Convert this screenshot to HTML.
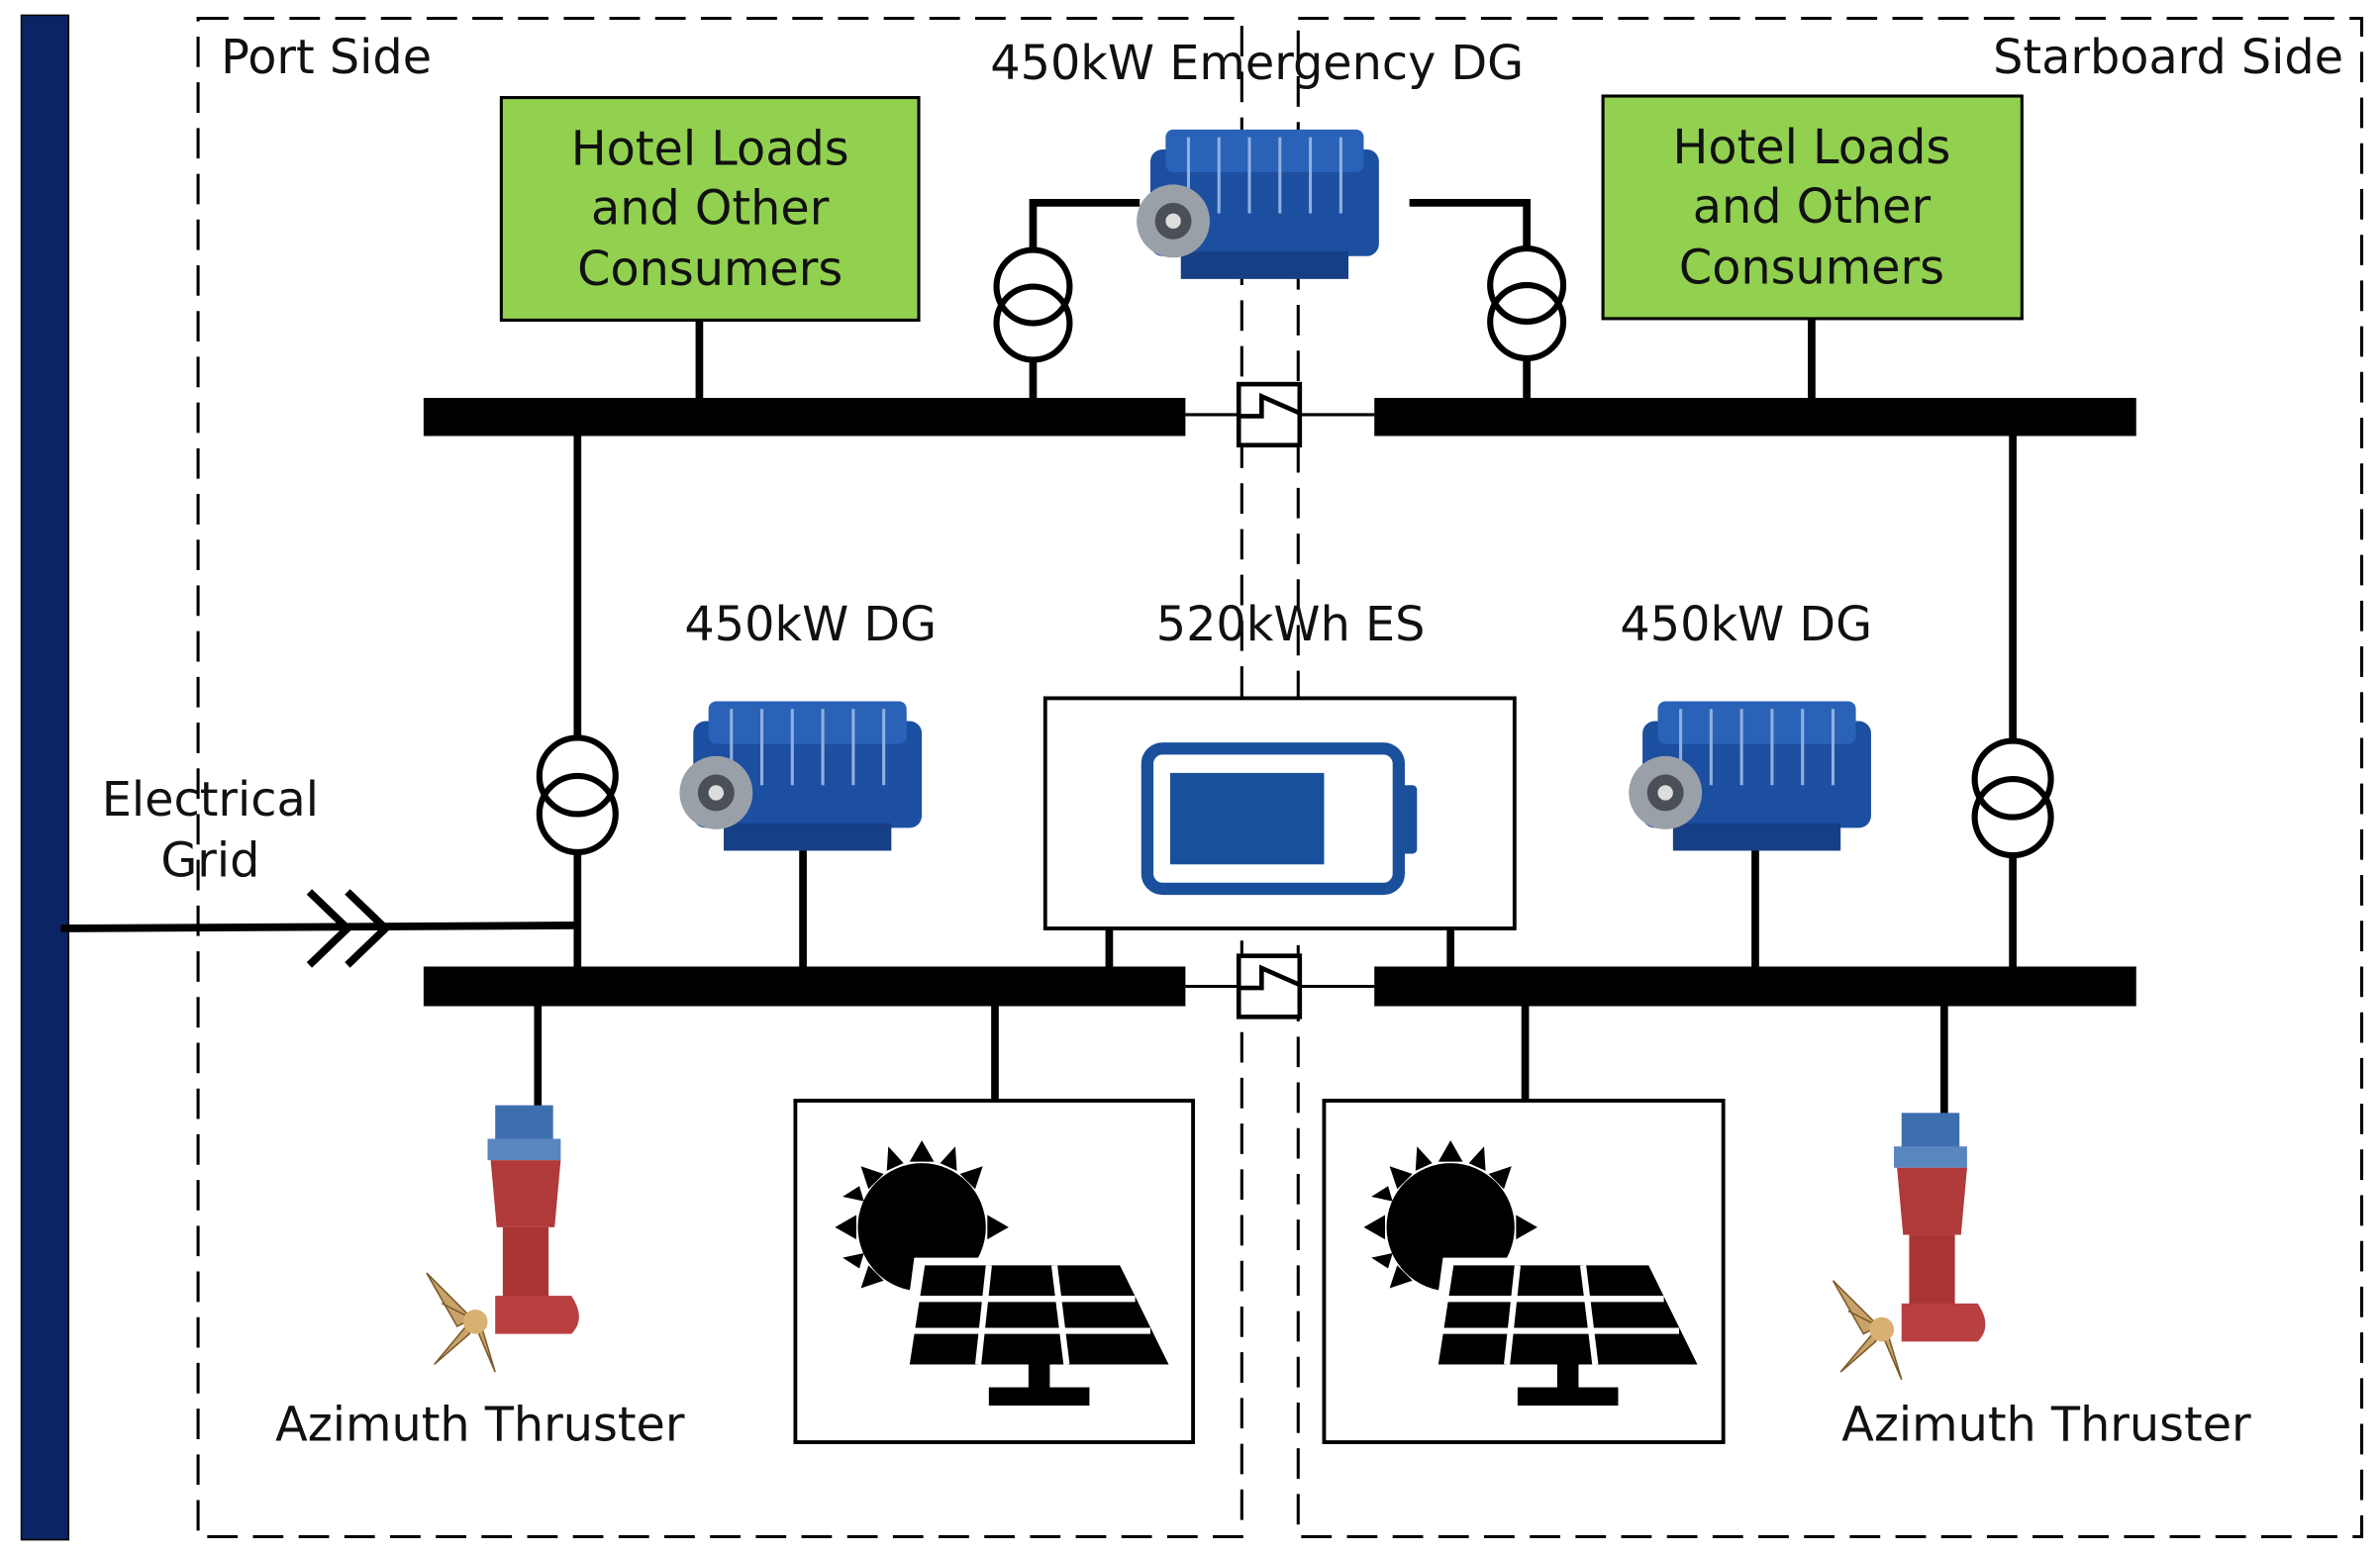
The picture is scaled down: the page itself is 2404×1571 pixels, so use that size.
<!DOCTYPE html>
<html><head><meta charset="utf-8"><style>
html,body{margin:0;padding:0;background:#fff;}
svg{display:block;}
text{font-family:"DejaVu Sans","Liberation Sans",sans-serif;font-size:31px;fill:#111;}
</style></head><body>
<svg width="2404" height="1571" viewBox="0 0 1562 1020" preserveAspectRatio="none" xmlns="http://www.w3.org/2000/svg">
<defs>
<g id="engine">
  <rect x="10" y="18" width="150" height="70" rx="8" fill="#1c4fa0"/>
  <rect x="20" y="5" width="130" height="28" rx="5" fill="#2a62b8"/>
  <g stroke="#8fb0e0" stroke-width="2">
    <line x1="35" y1="10" x2="35" y2="60"/><line x1="55" y1="10" x2="55" y2="60"/>
    <line x1="75" y1="10" x2="75" y2="60"/><line x1="95" y1="10" x2="95" y2="60"/>
    <line x1="115" y1="10" x2="115" y2="60"/><line x1="135" y1="10" x2="135" y2="60"/>
  </g>
  <rect x="30" y="85" width="110" height="18" fill="#173f85"/>
  <circle cx="25" cy="65" r="24" fill="#9aa0a8"/>
  <circle cx="25" cy="65" r="12" fill="#4a4f58"/>
  <circle cx="25" cy="65" r="5" fill="#ddd"/>
</g>
<g id="sun">
  <g fill="#000">
    <circle cx="60" cy="75" r="42"/>
    <polygon points="60,18 52,32 68,32"/><polygon points="60,132 52,118 68,118"/>
    <polygon points="3,75 17,67 17,83"/><polygon points="117,75 103,67 103,83"/>
    <polygon points="20,35 25,50 35,40"/><polygon points="100,35 85,40 95,50"/>
    <polygon points="20,115 35,110 25,100"/><polygon points="100,115 95,100 85,110"/>
    <polygon points="38,22 37,38 48,33"/><polygon points="82,22 72,33 83,38"/>
    <polygon points="8,55 22,58 19,48"/><polygon points="8,95 19,102 22,92"/>
  </g>
  <polygon points="55,95 195,95 230,170 45,170" fill="#fff"/>
  <polygon points="62,100 190,100 222,165 52,165" fill="#000"/>
  <g stroke="#fff" stroke-width="4">
    <line x1="104" y1="100" x2="97" y2="165"/><line x1="147" y1="100" x2="155" y2="165"/>
    <line x1="58" y1="122" x2="200" y2="122"/><line x1="55" y1="143" x2="210" y2="143"/>
  </g>
  <rect x="130" y="165" width="14" height="18" fill="#000"/>
  <rect x="104" y="180" width="66" height="12" fill="#000"/>
</g>
<g id="thr">
  <rect x="45" y="0" width="38" height="28" fill="#3d6fae"/>
  <rect x="40" y="22" width="48" height="14" fill="#5a86c0"/>
  <path d="M42,36 H88 L84,80 H46 Z" fill="#b03a3a"/>
  <rect x="50" y="80" width="30" height="50" fill="#a83434"/>
  <path d="M45,125 H95 Q105,140 95,150 H45 Z" fill="#b84040"/>
  <g fill="#c9a26a" stroke="#7a5a2a" stroke-width="1">
    <path d="M30,140 L0,110 L20,145 Z"/><path d="M30,140 L5,170 L28,150 Z"/>
    <path d="M30,140 L45,175 L36,145 Z"/><path d="M30,140 L10,130 Z"/>
  </g>
  <circle cx="32" cy="142" r="8" fill="#d8b070"/>
</g>
</defs>

<rect x="14" y="10" width="31" height="1000" fill="#0b2464" stroke="#000" stroke-width="1"/>

<g fill="none" stroke="#000" stroke-width="2" stroke-dasharray="20,10">
  <rect x="130" y="12" width="685" height="996"/>
  <rect x="852" y="12" width="698" height="996"/>
</g>
<text x="145" y="48">Port Side</text>
<text x="1538" y="48" text-anchor="end">Starboard Side</text>
<text x="825" y="52" text-anchor="middle">450kW Emergency DG</text>

<rect x="329" y="64" width="274" height="146" fill="#92d050" stroke="#000" stroke-width="2"/>
<rect x="1052" y="63" width="275" height="146" fill="#92d050" stroke="#000" stroke-width="2"/>
<g text-anchor="middle">
<text x="466" y="108">Hotel Loads</text><text x="466" y="147">and Other</text><text x="466" y="187">Consumers</text>
<text x="1189" y="107">Hotel Loads</text><text x="1189" y="146">and Other</text><text x="1189" y="186">Consumers</text>
</g>

<g stroke="#000" stroke-width="5" fill="none">
  <line x1="459" y1="210" x2="459" y2="262"/>
  <line x1="1189" y1="209" x2="1189" y2="262"/>
  <polyline points="678,164 678,133 748,133"/>
  <line x1="678" y1="236" x2="678" y2="262"/>
  <polyline points="1002,163 1002,133 925,133"/>
  <line x1="1002" y1="235" x2="1002" y2="262"/>
  <line x1="379" y1="286" x2="379" y2="484"/>
  <line x1="379" y1="558" x2="379" y2="635"/>
  <line x1="1321" y1="286" x2="1321" y2="486"/>
  <line x1="1321" y1="560" x2="1321" y2="635"/>
  <line x1="527" y1="555" x2="527" y2="635"/>
  <line x1="1152" y1="555" x2="1152" y2="635"/>
  <line x1="728" y1="609" x2="728" y2="635"/>
  <line x1="952" y1="609" x2="952" y2="635"/>
  <line x1="353" y1="660" x2="353" y2="728"/>
  <line x1="653" y1="660" x2="653" y2="722"/>
  <line x1="1001" y1="660" x2="1001" y2="722"/>
  <line x1="1276" y1="660" x2="1276" y2="732"/>
  <line x1="40" y1="609" x2="379" y2="607"/>
  <polyline points="203,585 228,609 203,633"/>
  <polyline points="228,585 253,609 228,633"/>
  <circle cx="678" cy="188" r="24" stroke-width="4"/><circle cx="678" cy="212" r="24" stroke-width="4"/>
  <circle cx="1002" cy="187" r="24" stroke-width="4"/><circle cx="1002" cy="211" r="24" stroke-width="4"/>
  <circle cx="379" cy="509" r="25" stroke-width="4"/><circle cx="379" cy="534" r="25" stroke-width="4"/>
  <circle cx="1321" cy="511" r="25" stroke-width="4"/><circle cx="1321" cy="536" r="25" stroke-width="4"/>
</g>
<g stroke="#000" stroke-width="2" fill="none">
  <line x1="778" y1="272" x2="902" y2="272"/>
  <line x1="778" y1="647" x2="902" y2="647"/>
</g>
<g stroke="#000" stroke-width="3" fill="#fff">
  <rect x="813" y="252" width="40" height="40"/>
  <rect x="813" y="627" width="40" height="40"/>
</g>
<g stroke="#000" stroke-width="3" fill="none">
  <polyline points="813,273 828,273 828,260 853,271"/>
  <polyline points="813,648 828,648 828,635 853,646"/>
</g>

<g fill="#000">
  <rect x="278" y="261" width="500" height="25"/>
  <rect x="902" y="261" width="500" height="25"/>
  <rect x="278" y="634" width="500" height="26"/>
  <rect x="902" y="634" width="500" height="26"/>
</g>

<use href="#engine" x="745" y="80"/>
<use href="#engine" x="445" y="455"/>
<use href="#engine" x="1068" y="455"/>

<text x="532" y="420" text-anchor="middle">450kW DG</text>
<text x="847" y="420" text-anchor="middle">520kWh ES</text>
<text x="1146" y="420" text-anchor="middle">450kW DG</text>
<text x="138" y="535" text-anchor="middle">Electrical</text>
<text x="138" y="575" text-anchor="middle">Grid</text>

<rect x="686" y="458" width="308" height="151" fill="#fff" stroke="#000" stroke-width="2.5"/>
<rect x="753" y="491" width="165" height="92" rx="10" fill="none" stroke="#1a4f9c" stroke-width="8"/>
<rect x="918" y="515" width="12" height="45" rx="3" fill="#1a4f9c"/>
<rect x="768" y="507" width="101" height="60" fill="#1a4f9c"/>

<rect x="522" y="722" width="261" height="224" fill="#fff" stroke="#000" stroke-width="2.5"/>
<rect x="869" y="722" width="262" height="224" fill="#fff" stroke="#000" stroke-width="2.5"/>
<use href="#sun" x="545" y="730"/>
<use href="#sun" x="892" y="730"/>

<use href="#thr" x="280" y="725"/>
<use href="#thr" x="1203" y="730"/>
<text x="315" y="945" text-anchor="middle">Azimuth Thruster</text>
<text x="1343" y="945" text-anchor="middle">Azimuth Thruster</text>
</svg>
</body></html>
